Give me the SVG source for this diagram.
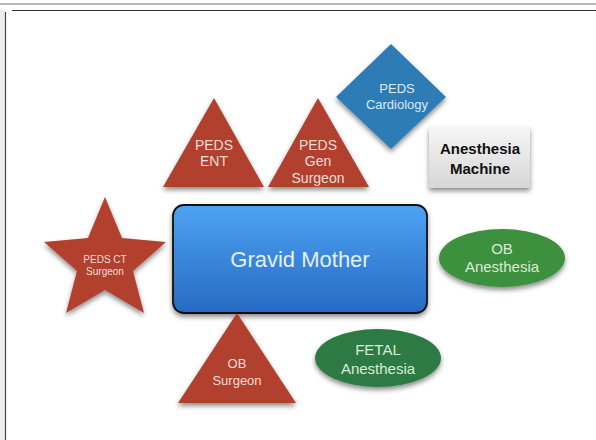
<svg xmlns="http://www.w3.org/2000/svg" width="596" height="440" viewBox="0 0 596 440">
<defs>
<style>
.lbl{font-family:"Liberation Sans",Arial,sans-serif;text-anchor:middle;fill:#f3ddd8}
.red{fill:#b2412e}
.shadow{filter:url(#ds)}
</style>
<filter id="ds" x="-20%" y="-20%" width="140%" height="150%">
<feDropShadow dx="0" dy="3" stdDeviation="2.5" flood-color="#000" flood-opacity="0.45"/>
</filter>
<linearGradient id="blue" x1="0" y1="0" x2="0" y2="1">
<stop offset="0" stop-color="#4da3f2"/>
<stop offset="1" stop-color="#266ac4"/>
</linearGradient>
<linearGradient id="gray" x1="0" y1="0" x2="0" y2="1">
<stop offset="0" stop-color="#f6f6f6"/>
<stop offset="1" stop-color="#d6d6d6"/>
</linearGradient>
</defs>
<rect width="596" height="440" fill="#fff"/>
<g id="frame">
<rect x="0" y="10" width="5" height="430" fill="#ececec"/>
<line x1="0" y1="4" x2="596" y2="4" stroke="#777" stroke-width="1.2"/>
<line x1="12" y1="10.5" x2="596" y2="10.5" stroke="#333" stroke-width="1.2"/>
<line x1="5.5" y1="12" x2="5.5" y2="440" stroke="#444" stroke-width="1.2"/>
</g>
<g id="connectors"></g>
<g id="peds-cardiology">
<polygon class="shadow" points="391,44 446,97 391,149 336,97" fill="#2f7cb6"/>
<text class="lbl" x="397" y="93" font-size="13" fill="#dbe9f5" style="fill:#dbe9f5">PEDS</text>
<text class="lbl" x="397" y="109" font-size="13" style="fill:#dbe9f5">Cardiology</text>
</g>
<g id="peds-ent">
<polygon class="shadow red" points="214,98 264,187 163,187"/>
<text class="lbl" x="214" y="150" font-size="14">PEDS</text>
<text class="lbl" x="214" y="166" font-size="14">ENT</text>
</g>
<g id="peds-gen-surgeon">
<polygon class="shadow red" points="318,98 369,187 268,187"/>
<text class="lbl" x="318" y="150" font-size="14">PEDS</text>
<text class="lbl" x="318" y="166" font-size="14">Gen</text>
<text class="lbl" x="318" y="183" font-size="14">Surgeon</text>
</g>
<g id="anesthesia-machine">
<rect class="shadow" x="429" y="127" width="101" height="61" fill="url(#gray)"/>
<text x="480" y="154" font-family="'Liberation Sans',Arial,sans-serif" font-weight="bold" font-size="15" text-anchor="middle" fill="#111">Anesthesia</text>
<text x="480" y="174" font-family="'Liberation Sans',Arial,sans-serif" font-weight="bold" font-size="15" text-anchor="middle" fill="#111">Machine</text>
</g>
<g id="peds-ct-surgeon">
<polygon class="shadow red" points="105,197 122,238 166,242 133,271 144,313 105,290 66,313 77,271 44,242 88,238"/>
<text class="lbl" x="105" y="263" font-size="10">PEDS CT</text>
<text class="lbl" x="105" y="275" font-size="10">Surgeon</text>
</g>
<g id="gravid-mother">
<rect class="shadow" x="173" y="205" width="254" height="108" rx="11" fill="url(#blue)" stroke="#111" stroke-width="1.8"/>
<text class="lbl" x="300" y="267" font-size="22" style="fill:#e6f0fb">Gravid Mother</text>
</g>
<g id="ob-anesthesia">
<ellipse class="shadow" cx="502" cy="258" rx="63" ry="29" fill="#3e903c"/>
<text class="lbl" x="502" y="254" font-size="15" style="fill:#d9ecd6">OB</text>
<text class="lbl" x="502" y="272" font-size="15" style="fill:#d9ecd6">Anesthesia</text>
</g>
<g id="fetal-anesthesia">
<ellipse class="shadow" cx="378" cy="358" rx="63" ry="29" fill="#2f7a45"/>
<text class="lbl" x="378" y="355" font-size="15" style="fill:#d9ecd6">FETAL</text>
<text class="lbl" x="378" y="374" font-size="15" style="fill:#d9ecd6">Anesthesia</text>
</g>
<g id="ob-surgeon">
<polygon class="shadow red" points="237,313 296,403 178,403"/>
<text class="lbl" x="237" y="368" font-size="13">OB</text>
<text class="lbl" x="237" y="385" font-size="13">Surgeon</text>
</g>
</svg>
